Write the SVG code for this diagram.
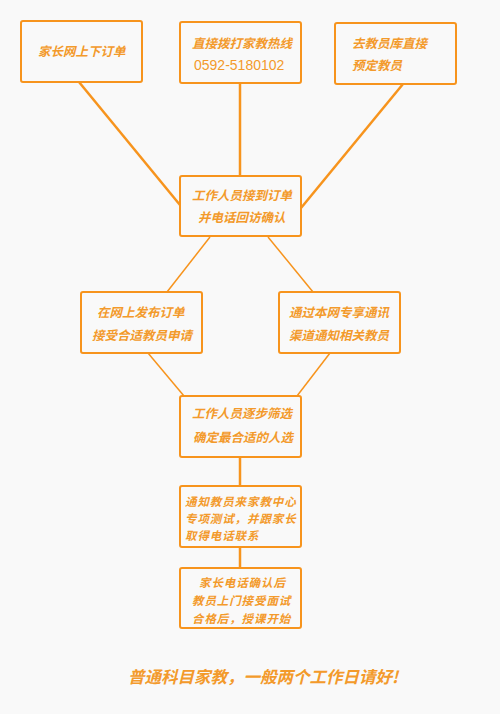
<svg xmlns="http://www.w3.org/2000/svg" width="500" height="714" viewBox="0 0 500 714">
<style>
.bg{fill:#f9f9f9}
.box{fill:#f9f9f9;stroke:#f7941d;stroke-width:2}
.t{font-family:"Noto Sans CJK SC","Liberation Sans",sans-serif;font-size:12.5px;font-style:italic;font-weight:bold;fill:#f39a2b}
.s{font-size:11.5px;letter-spacing:0.9px}
.n{font-family:"Liberation Sans","DejaVu Sans",sans-serif;font-size:14px;fill:#f39a2b}
.c{stroke:#f7941d;fill:none}
.thick{stroke-width:2.5}
.thin{stroke-width:1.5}
.foot{font-family:"Noto Sans CJK SC","Liberation Sans",sans-serif;font-size:16.5px;font-style:italic;font-weight:bold;fill:#f39a2b}
</style>
<rect class="bg" x="0" y="0" width="500" height="714"/>
<g id="connectors">
<line class="c thick" x1="79" y1="82" x2="180" y2="205"/>
<line class="c thick" x1="240" y1="83" x2="240" y2="176"/>
<line class="c thick" x1="403" y1="84" x2="301" y2="208"/>
<line class="c thin" x1="210" y1="237" x2="167" y2="292"/>
<line class="c thin" x1="268" y1="237" x2="313" y2="292"/>
<line class="c thin" x1="148" y1="353" x2="184" y2="396"/>
<line class="c thin" x1="330" y1="353" x2="297" y2="396"/>
<line class="c thick" x1="240" y1="457" x2="240" y2="486"/>
<line class="c thick" x1="240" y1="547" x2="240" y2="568"/>
</g>
<g id="n1">
<rect class="box" x="21" y="21" width="121" height="61" rx="2"/>
<text class="t" x="38" y="56">家长网上下订单</text>
</g>
<g id="n2">
<rect class="box" x="180" y="22" width="121" height="61" rx="2"/>
<text class="t" x="192" y="48">直接拨打家教热线</text>
<text class="n" x="194" y="70">0592-5180102</text>
</g>
<g id="n3">
<rect class="box" x="335" y="23" width="121" height="61" rx="2"/>
<text class="t" x="352" y="48">去教员库直接</text>
<text class="t" x="352" y="70">预定教员</text>
</g>
<g id="n4">
<rect class="box" x="180" y="176" width="121" height="60" rx="2"/>
<text class="t" x="192" y="200">工作人员接到订单</text>
<text class="t" x="198" y="222">并电话回访确认</text>
</g>
<g id="n5">
<rect class="box" x="81" y="292" width="121" height="61" rx="2"/>
<text class="t" x="97" y="317">在网上发布订单</text>
<text class="t" x="92" y="340">接受合适教员申请</text>
</g>
<g id="n6">
<rect class="box" x="279" y="292" width="121" height="61" rx="2"/>
<text class="t" x="289" y="317">通过本网专享通讯</text>
<text class="t" x="289" y="340">渠道通知相关教员</text>
</g>
<g id="n7">
<rect class="box" x="180" y="396" width="121" height="61" rx="2"/>
<text class="t" x="192" y="418">工作人员逐步筛选</text>
<text class="t" x="193" y="442">确定最合适的人选</text>
</g>
<g id="n8">
<rect class="box" x="180" y="486" width="121" height="61" rx="2"/>
<text class="t s" x="185" y="506">通知教员来家教中心</text>
<text class="t s" x="185" y="523">专项测试，并跟家长</text>
<text class="t s" x="185" y="540">取得电话联系</text>
</g>
<g id="n9">
<rect class="box" x="180" y="568" width="121" height="60" rx="2"/>
<text class="t s" x="199" y="587">家长电话确认后</text>
<text class="t s" x="192" y="605">教员上门接受面试</text>
<text class="t s" x="192" y="623">合格后，授课开始</text>
</g>
<text class="foot" x="128" y="683">普通科目家教，一般两个工作日请好!</text>
</svg>
